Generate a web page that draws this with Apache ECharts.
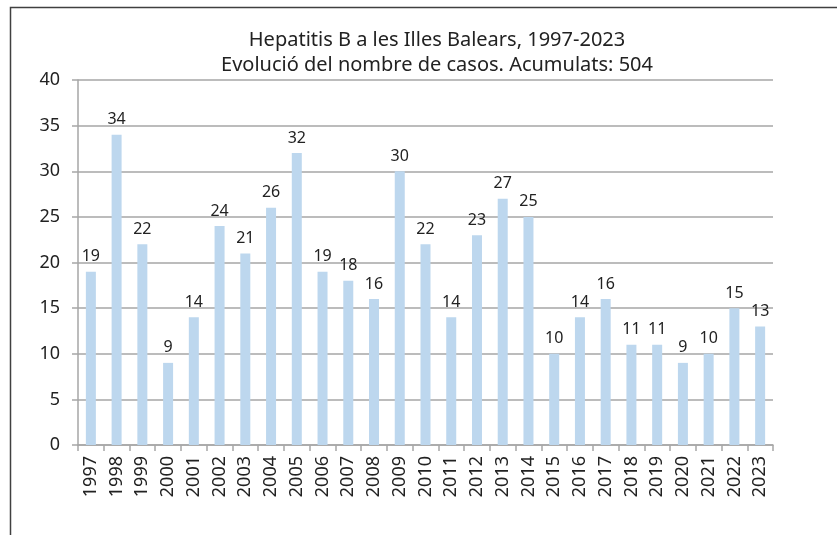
<!DOCTYPE html>
<html>
<head>
<meta charset="utf-8">
<script src="https://cdn.jsdelivr.net/npm/echarts@6/dist/echarts.min.js"></script>
<style>
  html, body { margin: 0; padding: 0; background: #fff; }
  #main { width: 837px; height: 535px; }
</style>
</head>
<body>
<div id="main"></div>
<script>
var chartDom = document.getElementById('main');
var myChart = echarts.init(chartDom);
var option;

const years = ['1997', '1998', '1999', '2000', '2001', '2002', '2003', '2004', '2005',
  '2006', '2007', '2008', '2009', '2010', '2011', '2012', '2013', '2014', '2015',
  '2016', '2017', '2018', '2019', '2020', '2021', '2022', '2023'];
const cases = [19, 34, 22, 9, 14, 24, 21, 26, 32, 19, 18, 16, 30, 22, 14, 23, 27, 25, 10,
  14, 16, 11, 11, 9, 10, 15, 13];

const barColor = '#bdd7ee';
const fontName = '"Noto Sans", "Open Sans", sans-serif';

option = {
  animation: false,
  textStyle: { fontFamily: fontName },
  graphic: [
    {
      type: 'rect',
      shape: { x: 10.5, y: 7.5, width: 900, height: 600 },
      style: { fill: 'none', stroke: '#404040', lineWidth: 1.5 },
      silent: true
    }
  ],
  title: {
    text: 'Hepatitis B a les Illes Balears, 1997-2023\nEvolució del nombre de casos. Acumulats: 504',
    left: 432,
    top: 23,
    textAlign: 'center',
    textStyle: {
      fontFamily: fontName,
      fontSize: 20,
      fontWeight: 'normal',
      color: '#222',
      lineHeight: 25
    }
  },
  grid: {
    left: 78,
    right: 64,
    top: 80,
    bottom: 90
  },
  xAxis: {
    type: 'category',
    data: years,
    axisLine: { lineStyle: { color: '#a6a6a6', width: 1.5 } },
    axisTick: { show: true, length: 6, lineStyle: { color: '#a6a6a6', width: 1.5 } },
    axisLabel: {
      rotate: 90,
      interval: 0,
      color: '#222',
      fontSize: 18,
      margin: 11,
      fontFamily: fontName
    }
  },
  yAxis: {
    type: 'value',
    min: 0,
    max: 40,
    interval: 5,
    axisLine: { show: true, lineStyle: { color: '#a6a6a6', width: 1.5 } },
    axisTick: { show: true, length: 6, lineStyle: { color: '#a6a6a6', width: 1.5 } },
    splitLine: { lineStyle: { color: '#a6a6a6', width: 1.5 } },
    axisLabel: {
      color: '#222',
      fontSize: 18,
      margin: 18,
      fontFamily: fontName
    }
  },
  series: [
    {
      name: 'Casos',
      type: 'bar',
      data: cases,
      barWidth: 10,
      itemStyle: { color: barColor },
      label: {
        show: true,
        position: 'top',
        distance: 7,
        color: '#222',
        fontSize: 16,
        fontFamily: fontName
      }
    }
  ]
};

option && myChart.setOption(option);
</script>
</body>
</html>
